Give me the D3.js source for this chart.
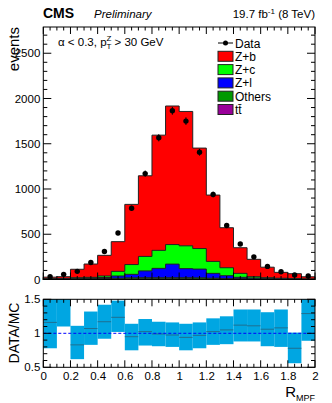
<!DOCTYPE html>
<html>
<head>
<meta charset="utf-8">
<script src="https://cdn.jsdelivr.net/npm/d3@7"></script>
<style>
  body { margin: 0; background: #fff; }
  text { font-family: "Liberation Sans", Arial, sans-serif; fill: #000; }
</style>
</head>
<body>
<div id="chart"></div>
<script>
// bin edges of R_MPF (20 bins)
var binEdges = [0,0.1,0.2,0.3,0.4,0.5,0.6,0.7,0.8,0.9,1.0,1.1,1.2,1.3,1.4,1.5,1.6,1.7,1.8,1.9,2.0];

// MC samples (events per bin), stacked bottom -> top
var ttbar  = [1,1,2,3,4,5,6,7,7,7,7,6,5,4,3,2,2,1,1,1];
var others = [3,4,6,7,8,9,12,13,13,13,13,12,10,8,6,5,3,3,2,1];
var zl     = [2,3,4,7,10,25,39,75,103,150,100,97,53,30,15,10,5,3,2,1];
var zc     = [4,4,8,7,17,51,108,160,199,216,252,227,132,88,44,14,10,7,5,3];
var zb     = [16,19,93,147,228,328,665,891,1273,1531,1485,1110,733,442,283,192,116,65,54,24];

// data
var dataEvents = [30,57,90,188,310,513,788,1170,1566,1864,1750,1406,940,597,392,250,145,86,50,39];

// DATA/MC ratio and its uncertainty band
var ratio     = [1.16,1.6,0.83,1.07,1.17,1.235,0.95,1.025,0.99,0.975,0.94,0.97,1.025,1.05,1.12,1.11,1.06,1.08,0.78,1.29];
var bandLow   = [0.78,1.10,0.62,0.83,0.92,1.02,0.75,0.82,0.81,0.80,0.75,0.78,0.83,0.84,0.88,0.88,0.81,0.80,0.56,0.89];
var bandHigh  = [1.55,1.9,1.11,1.32,1.42,1.48,1.14,1.21,1.17,1.16,1.14,1.16,1.22,1.25,1.35,1.35,1.31,1.35,1.01,1.7];

var yTicks = [0,500,1000,1500,2000,2500];
var xTicks = [0,0.2,0.4,0.6,0.8,1,1.2,1.4,1.6,1.8,2];
var rTicks = [0.5,1,1.5];

var layers = [
  {name: "Z+b", values: zb, color: "#ff0000"},
  {name: "Z+c", values: zc, color: "#00ff00"},
  {name: "Z+l", values: zl, color: "#0000ff"},
  {name: "Others", values: others, color: "#009900"},
  {name: "tt\u0304", values: ttbar, color: "#990099"}
];

var width = 332, height = 403;
var svg = d3.select("#chart").append("svg")
  .attr("width", width).attr("height", height);

var x = d3.scaleLinear().domain([0, 2]).range([43.3, 315]);
var y = d3.scaleLinear().domain([0, 2790]).range([279.5, 27]);
var yr = d3.scaleLinear().domain([0.5, 1.5]).range([367.3, 299.3]);

// cumulative stack, bottom (ttbar) first
var stackOrder = layers.slice().reverse();
var cum = [];
var running = binEdges.slice(1).map(function() { return 0; });
stackOrder.forEach(function(l) {
  running = running.map(function(v, i) { return v + l.values[i]; });
  cum.push({layer: l, top: running.slice()});
});

function stepPoints(vals) {
  var pts = [];
  vals.forEach(function(v, i) {
    pts.push([binEdges[i], v]);
    pts.push([binEdges[i + 1], v]);
  });
  return pts;
}

var area = d3.area()
  .x(function(d) { return x(d[0]); })
  .y0(y(0))
  .y1(function(d) { return y(d[1]); });

// draw from the largest (top) down so lower layers sit on top
cum.slice().reverse().forEach(function(c) {
  svg.append("path")
    .attr("d", area(stepPoints(c.top)))
    .attr("fill", c.layer.color)
    .attr("stroke", "#222")
    .attr("stroke-width", 1);
});

// data points
var pts = svg.append("g");
dataEvents.forEach(function(d, i) {
  var cx = x((binEdges[i] + binEdges[i + 1]) / 2);
  var err = Math.sqrt(d);
  pts.append("line")
    .attr("x1", cx).attr("x2", cx)
    .attr("y1", y(d - err)).attr("y2", y(d + err))
    .attr("stroke", "#000").attr("stroke-width", 1);
  pts.append("circle")
    .attr("cx", cx).attr("cy", y(d)).attr("r", 2.7)
    .attr("fill", "#000");
});

// frames and ticks
function drawFrame(yScale, majorY, minorY, top, bottom) {
  var g = svg.append("g");
  var x0 = x.range()[0], x1 = x.range()[1];
  g.append("rect")
    .attr("x", x0).attr("y", top)
    .attr("width", x1 - x0).attr("height", bottom - top)
    .attr("fill", "none").attr("stroke", "#000").attr("stroke-width", 1);
  var xMinor = d3.range(0, 2.0001, 0.05);
  xMinor.forEach(function(v) {
    var isMajor = Math.abs(v * 5 - Math.round(v * 5)) < 1e-6;
    var len = isMajor ? 7 : 3.5;
    g.append("line").attr("x1", x(v)).attr("x2", x(v))
      .attr("y1", bottom).attr("y2", bottom - len).attr("stroke", "#000");
    g.append("line").attr("x1", x(v)).attr("x2", x(v))
      .attr("y1", top).attr("y2", top + len).attr("stroke", "#000");
  });
  minorY.forEach(function(v) {
    var isMajor = majorY.some(function(m) { return Math.abs(m - v) < 1e-6; });
    var len = isMajor ? 8 : 4;
    g.append("line").attr("x1", x0).attr("x2", x0 + len)
      .attr("y1", yScale(v)).attr("y2", yScale(v)).attr("stroke", "#000");
    g.append("line").attr("x1", x1).attr("x2", x1 - len)
      .attr("y1", yScale(v)).attr("y2", yScale(v)).attr("stroke", "#000");
  });
}

drawFrame(y, yTicks, d3.range(0, 2790, 100), 27, 279.5);

// main y axis labels
svg.append("g").attr("transform", "translate(" + x.range()[0] + ",0)")
  .call(d3.axisLeft(y).tickValues(yTicks).tickSize(0).tickPadding(3).tickFormat(d3.format("d")))
  .call(function(g) { g.select(".domain").remove(); })
  .selectAll("text")
  .style("font-size", "11.5px")
  .style("font-family", "Liberation Sans, Arial, sans-serif");

svg.append("text")
  .attr("transform", "translate(19,27) rotate(-90)")
  .attr("text-anchor", "end")
  .style("font-size", "15px")
  .text("events");

// ratio pad
var ratioG = svg.append("g");
var clip = svg.append("clipPath").attr("id", "rclip");
clip.append("rect").attr("x", x.range()[0]).attr("y", 299.3)
  .attr("width", x.range()[1] - x.range()[0]).attr("height", 68);
ratioG.attr("clip-path", "url(#rclip)");

ratio.forEach(function(r, i) {
  var x0 = x(binEdges[i]), x1 = x(binEdges[i + 1]);
  ratioG.append("rect")
    .attr("x", x0).attr("width", x1 - x0)
    .attr("y", yr(bandHigh[i])).attr("height", yr(bandLow[i]) - yr(bandHigh[i]))
    .attr("fill", "#00a6e2");
  ratioG.append("line")
    .attr("x1", x0).attr("x2", x1)
    .attr("y1", yr(r)).attr("y2", yr(r))
    .attr("stroke", "#1f6f90").attr("stroke-width", 1);
});

ratioG.append("line")
  .attr("x1", x.range()[0]).attr("x2", x.range()[1])
  .attr("y1", yr(1)).attr("y2", yr(1))
  .attr("stroke", "#0000ff").attr("stroke-width", 1)
  .attr("stroke-dasharray", "3,2");

drawFrame(yr, rTicks, d3.range(0.5, 1.5001, 0.1), 299.3, 367.3);

svg.append("g").attr("transform", "translate(" + x.range()[0] + ",0)")
  .call(d3.axisLeft(yr).tickValues(rTicks).tickSize(0).tickPadding(3).tickFormat(d3.format("")))
  .call(function(g) { g.select(".domain").remove(); })
  .selectAll("text")
  .style("font-size", "11.5px")
  .style("font-family", "Liberation Sans, Arial, sans-serif");

svg.append("g").attr("transform", "translate(0,367.3)")
  .call(d3.axisBottom(x).tickValues(xTicks).tickSize(0).tickPadding(5).tickFormat(d3.format("")))
  .call(function(g) { g.select(".domain").remove(); })
  .selectAll("text")
  .style("font-size", "11.5px")
  .style("font-family", "Liberation Sans, Arial, sans-serif");

svg.append("text")
  .attr("transform", "translate(19,333) rotate(-90)")
  .attr("text-anchor", "middle")
  .style("font-size", "14px")
  .text("DATA/MC");

var rl = svg.append("text")
  .attr("x", 315).attr("y", 397)
  .attr("text-anchor", "end")
  .style("font-size", "15px");
rl.append("tspan").text("R");
rl.append("tspan").attr("dy", 4).style("font-size", "9px").text("MPF");

// header
svg.append("text").attr("x", 43).attr("y", 18)
  .style("font-size", "14px").style("font-weight", "bold").text("CMS");
svg.append("text").attr("x", 94).attr("y", 18)
  .style("font-size", "11.5px").style("font-style", "italic").text("Preliminary");
var lumi = svg.append("text").attr("x", 315).attr("y", 18)
  .attr("text-anchor", "end").style("font-size", "11.5px");
lumi.append("tspan").text("19.7 fb");
lumi.append("tspan").attr("dy", -4).style("font-size", "8px").text("-1");
lumi.append("tspan").attr("dy", 4).text(" (8 TeV)");

// selection label
var sel = svg.append("text").attr("x", 58).attr("y", 46).style("font-size", "11.5px");
sel.append("tspan").text("\u03b1 < 0.3, p");
sel.append("tspan").attr("dy", 3).attr("dx", 0).style("font-size", "8px").text("T");
sel.append("tspan").attr("dy", -8).attr("dx", -5).style("font-size", "8px").text("Z");
sel.append("tspan").attr("dy", 5).text(" > 30 GeV");

// legend
var leg = svg.append("g");
var lx = 218, ly = 43, ls = 13.3;
leg.append("line").attr("x1", lx).attr("x2", lx + 15)
  .attr("y1", ly).attr("y2", ly).attr("stroke", "#000");
leg.append("circle").attr("cx", lx + 7.5).attr("cy", ly).attr("r", 2.5);
leg.append("text").attr("x", lx + 17).attr("y", ly + 4.5)
  .style("font-size", "12px").text("Data");
layers.forEach(function(l, i) {
  var yy = ly + ls * (i + 1);
  leg.append("rect").attr("x", lx).attr("y", yy - 5)
    .attr("width", 15).attr("height", 10)
    .attr("fill", l.color).attr("stroke", "#222").attr("stroke-width", 1);
  leg.append("text").attr("x", lx + 17).attr("y", yy + 4.5)
    .style("font-size", "12px").text(l.name);
});
</script>
</body>
</html>
